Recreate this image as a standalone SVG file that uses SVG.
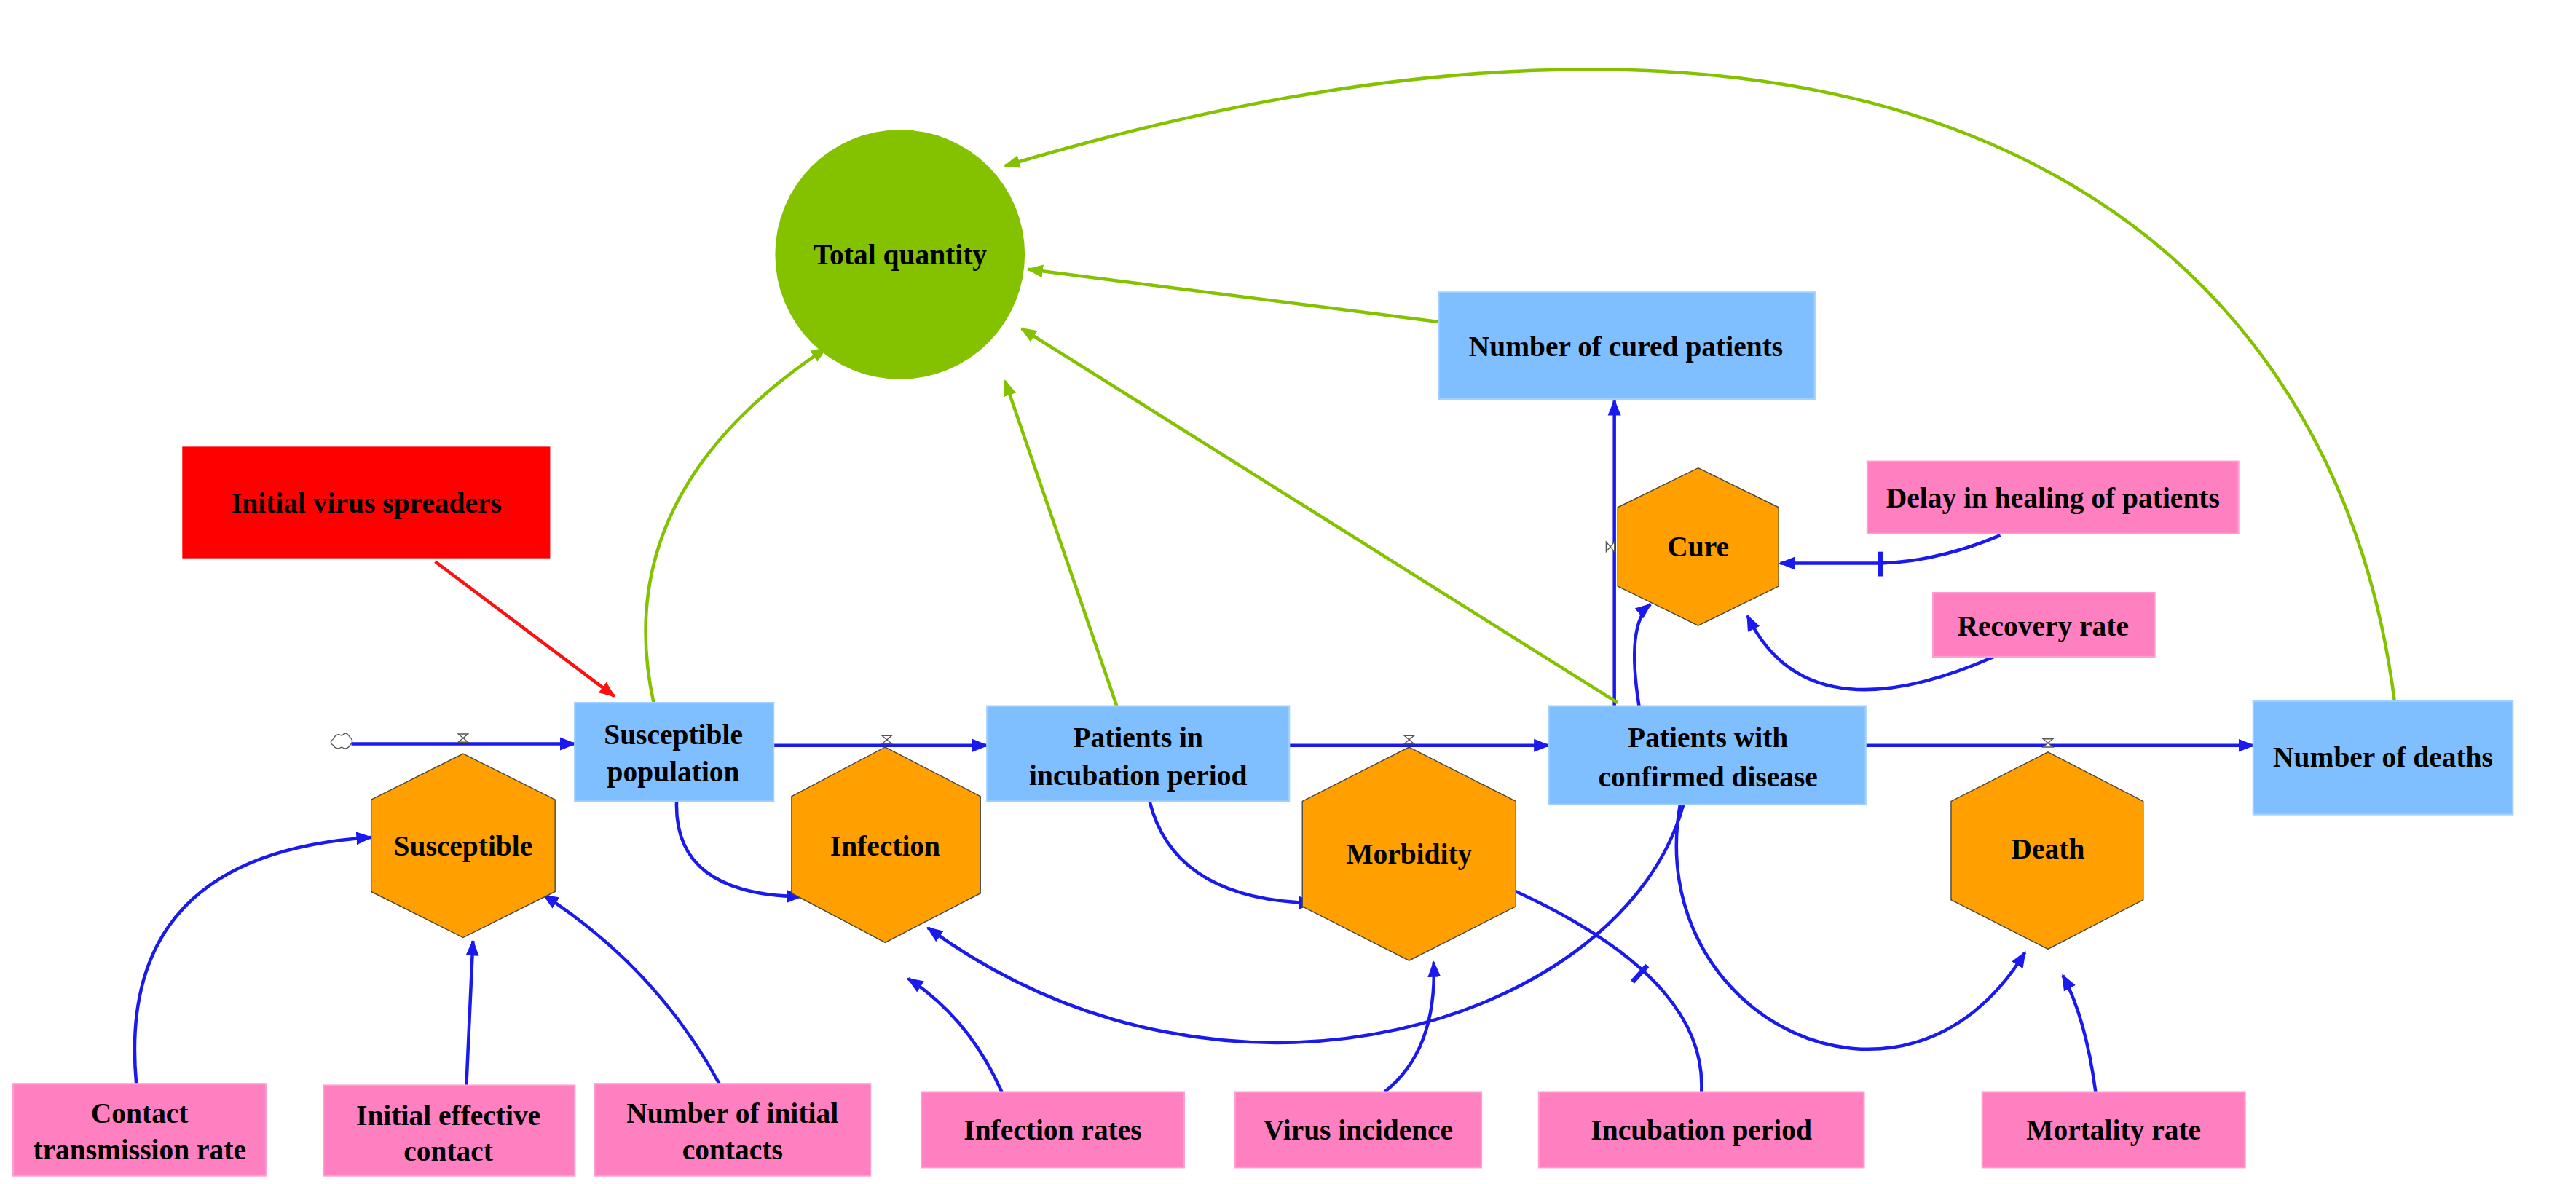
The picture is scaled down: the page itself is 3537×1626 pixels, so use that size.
<svg xmlns="http://www.w3.org/2000/svg" width="3537" height="1626" viewBox="0 0 3537 1626">
<defs>
<marker id="ab" viewBox="0 0 10 10" refX="9" refY="5" markerWidth="10" markerHeight="10" markerUnits="userSpaceOnUse" orient="auto"><path d="M0,1 L10,5 L0,9 z" fill="#1a1aee"/></marker>
<marker id="ag" viewBox="0 0 10 10" refX="9" refY="5" markerWidth="10" markerHeight="10" markerUnits="userSpaceOnUse" orient="auto"><path d="M0,1 L10,5 L0,9 z" fill="#84c200"/></marker>
<marker id="ar" viewBox="0 0 10 10" refX="9" refY="5" markerWidth="10" markerHeight="10" markerUnits="userSpaceOnUse" orient="auto"><path d="M0,1 L10,5 L0,9 z" fill="#ff1010"/></marker>
</defs>
<style>
text{font-family:"Liberation Serif",serif;font-weight:bold;font-size:17.5px;fill:#000;text-anchor:middle}
.lv{fill:#80bfff;stroke:#9fd0ff;stroke-width:1}
.pk{fill:#ff80c0;stroke:#ff9fd0;stroke-width:1}
.hx{fill:#ffa000;stroke:#444;stroke-width:0.6}
.b{fill:none;stroke:#1a1aee;stroke-width:2;marker-end:url(#ab)}
.g{fill:none;stroke:#84c200;stroke-width:2;marker-end:url(#ag)}
</style>
<rect width="3537" height="1626" fill="#fff"/>
<g transform="scale(2.255)">
<g id="connectors">
<path class="b" d="M214,453 L350,453"/>
<path class="b" d="M471,454 L601,454"/>
<path class="b" d="M785,454 L943,454"/>
<path class="b" d="M1136,454 L1372,454"/>
<path class="b" d="M983,430 L983,244"/>
<path d="M265,342 L374,424" fill="none" stroke="#ff1010" stroke-width="2" marker-end="url(#ar)"/>
<path class="g" d="M398,428 Q370,300 503,212"/>
<path class="g" d="M680,430 L612,232"/>
<path class="g" d="M985,428 L622,200"/>
<path class="g" d="M876,196 L626,164"/>
<path class="g" d="M1458,427 C1420,130 1150,-60 612,101"/>
<path class="b" d="M412,488 Q410,545 488,546"/>
<path class="b" d="M700,488 Q715,548 800,550"/>
<path class="b" d="M1025,490 C990,620 750,700 565,565"/>
<path class="b" d="M1023,490 C1000,620 1160,700 1233,580"/>
<path class="b" d="M998,430 Q990,380 1005,368"/>
<path class="b" d="M1218,326 Q1180,342 1145,343 L1084,343"/>
<path d="M1145,336 L1145,351" stroke="#1a1aee" stroke-width="3"/>
<path class="b" d="M1214,400 Q1100,450 1064,375"/>
<path class="b" d="M83,660 Q70,520 226,510"/>
<path class="b" d="M284,661 Q286,615 288,573"/>
<path class="b" d="M438,660 Q400,590 331,545"/>
<path class="b" d="M610,665 Q590,620 553,596"/>
<path class="b" d="M843,665 Q875,640 873,586"/>
<path class="b" d="M1036,665 Q1040,590 900,533"/>
<path d="M994,598 L1003,588" stroke="#1a1aee" stroke-width="3"/>
<path class="b" d="M1276,665 Q1270,620 1256,594"/>
<g fill="#fff" stroke="#555" stroke-width="0.6">
<path d="M203,450 q2,-4 5,-2 q3,-3 5,1 q3,2 0,5 q-2,3 -5,1 q-3,2 -5,-1 q-3,-2 0,-4z"/>
<path d="M279,447 h6 l-6,5 h6z"/>
<path d="M537,448 h6 l-6,5 h6z"/>
<path d="M855,448 h6 l-6,5 h6z"/>
<path d="M1244,450 h6 l-6,5 h6z"/>
<path d="M978,330 v6 l5,-6 v6z"/>
</g>
</g>
<g id="total"><circle cx="548" cy="155" r="76" fill="#84c200"/><text x="548" y="161">Total quantity</text></g>
<g id="cured"><rect class="lv" x="876" y="178" width="229" height="65"/><text x="990" y="217">Number of cured patients</text></g>
<g id="spreaders"><rect x="111" y="272" width="224" height="68" fill="#ff0000"/><text x="223" y="312">Initial virus spreaders</text></g>
<g id="delay"><rect class="pk" x="1137" y="281" width="226" height="44"/><text x="1250" y="309">Delay in healing of patients</text></g>
<g id="recovery"><rect class="pk" x="1177" y="361" width="135" height="39"/><text x="1244" y="387">Recovery rate</text></g>
<g id="cure"><path class="hx" d="M1034,285 L1083,309 L1083,357 L1034,381 L985,357 L985,309z"/><text x="1034" y="339">Cure</text></g>
<g id="suspop"><rect class="lv" x="350" y="428" width="121" height="60"/><text x="410" y="453">Susceptible</text><text x="410" y="476">population</text></g>
<g id="incub"><rect class="lv" x="601" y="430" width="184" height="58"/><text x="693" y="455">Patients in</text><text x="693" y="478">incubation period</text></g>
<g id="confirmed"><rect class="lv" x="943" y="430" width="193" height="60"/><text x="1040" y="455">Patients with</text><text x="1040" y="479">confirmed disease</text></g>
<g id="deaths"><rect class="lv" x="1372" y="427" width="158" height="69"/><text x="1451" y="467">Number of deaths</text></g>
<g id="susceptible"><path class="hx" d="M282,459 L338,487 L338,543 L282,571 L226,543 L226,487z"/><text x="282" y="521">Susceptible</text></g>
<g id="infection"><path class="hx" d="M539,455 L597,485 L597,544 L539,574 L482,544 L482,485z"/><text x="539" y="521">Infection</text></g>
<g id="morbidity"><path class="hx" d="M858,455 L923,488 L923,552 L858,585 L793,552 L793,488z"/><text x="858" y="526">Morbidity</text></g>
<g id="death"><path class="hx" d="M1247,458 L1305,488 L1305,548 L1247,578 L1188,548 L1188,488z"/><text x="1247" y="523">Death</text></g>
<g id="ctr"><rect class="pk" x="8" y="660" width="154" height="56"/><text x="85" y="684">Contact</text><text x="85" y="706">transmission rate</text></g>
<g id="iec"><rect class="pk" x="197" y="661" width="153" height="55"/><text x="273" y="685">Initial effective</text><text x="273" y="707">contact</text></g>
<g id="nic"><rect class="pk" x="362" y="660" width="168" height="56"/><text x="446" y="684">Number of initial</text><text x="446" y="706">contacts</text></g>
<g id="ir"><rect class="pk" x="561" y="665" width="160" height="46"/><text x="641" y="694">Infection rates</text></g>
<g id="vi"><rect class="pk" x="752" y="665" width="150" height="46"/><text x="827" y="694">Virus incidence</text></g>
<g id="ip"><rect class="pk" x="937" y="665" width="198" height="46"/><text x="1036" y="694">Incubation period</text></g>
<g id="mr"><rect class="pk" x="1207" y="665" width="160" height="46"/><text x="1287" y="694">Mortality rate</text></g>
</g>
</svg>
